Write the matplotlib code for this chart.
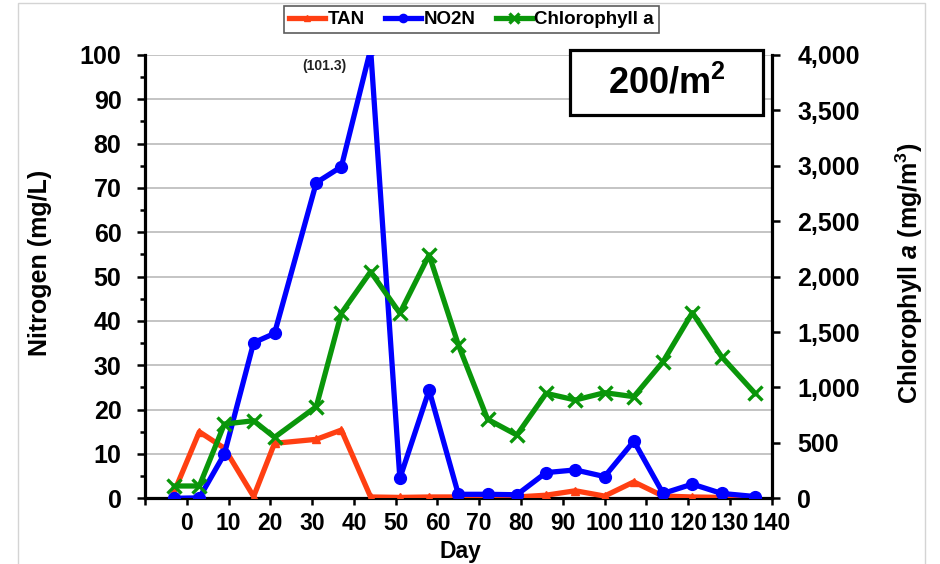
import matplotlib
matplotlib.use("Agg")
import matplotlib.pyplot as plt
from matplotlib.ticker import MultipleLocator, FuncFormatter, FixedLocator
from matplotlib.patches import Rectangle

plt.rcParams['font.family'] = ['Liberation Sans', 'DejaVu Sans']
plt.rcParams['font.weight'] = 'bold'
plt.rcParams['mathtext.fontset'] = 'custom'
plt.rcParams['mathtext.rm'] = 'Liberation Sans:bold'
plt.rcParams['mathtext.bf'] = 'Liberation Sans:bold'
plt.rcParams['mathtext.it'] = 'Liberation Sans:italic:bold'

# ---- data ----
days = [-3, 3, 9, 16, 21, 31, 37, 44, 51, 58, 65, 72, 79, 86, 93, 100, 107, 114, 121, 128, 136]
tan = [1.5, 15.0, 11.3, 0.4, 12.4, 13.3, 15.4, 0.3, 0.2, 0.3, 0.3, 0.3, 0.3, 0.7, 1.7, 0.5, 3.7, 0.5, 0.3, 0.2, 0.1]
no2n = [0.0, 0.1, 10.0, 35.1, 37.2, 71.2, 74.8, 101.3, 4.5, 24.4, 0.9, 0.9, 0.8, 5.8, 6.4, 4.9, 12.9, 1.1, 3.2, 1.1, 0.4]
chl = [111, 111, 670, 700, 550, 827, 1670, 2045, 1670, 2196, 1384, 713, 571, 947, 887, 953, 917, 1233, 1675, 1278, 947]
x_ticks = list(range(-10, 141, 10))
x_labels = [''] + [str(v) for v in range(0, 141, 10)]
left_ticks = list(range(0, 101, 10))
right_ticks = list(range(0, 4001, 500))
peak_label = '(101.3)'
box_label = r'200/m$^{2}$'

RED = '#FF3F12'
BLUE = '#0000FF'
GREEN = '#0A960A'

fig = plt.figure(figsize=(9.4, 5.64), dpi=100)
ax = fig.add_axes([0.15426, 0.11649, 0.6667, 0.786])
ax2 = ax.twinx()

lw = 3.8
l1, = ax.plot(days, tan, color=RED, lw=lw, marker='^', ms=6, mec=RED, mfc=RED, label='TAN', zorder=3)
l2, = ax.plot(days, no2n, color=BLUE, lw=lw, marker='o', ms=8.5, mec=BLUE, mfc=BLUE, label='NO2N', zorder=4)
l3, = ax2.plot(days, chl, color=GREEN, lw=lw, marker='x', ms=10, mew=2.4, mec=GREEN, label='Chlorophyll a', zorder=5)

ax.set_xlim(-10, 140)
ax.set_ylim(0, 100)
ax2.set_ylim(0, 4000)

ax.xaxis.set_major_locator(FixedLocator(x_ticks))
ax.set_xticklabels(x_labels)
ax.yaxis.set_major_locator(FixedLocator(left_ticks))
ax.yaxis.set_minor_locator(MultipleLocator(5))
ax2.yaxis.set_major_locator(FixedLocator(right_ticks))
ax2.yaxis.set_major_formatter(FuncFormatter(lambda v, p: f'{int(v):,}'))

ax.set_axisbelow(True)
ax.grid(axis='y', which='major', color='#c4c4c4', lw=1.4)
ax.grid(axis='x', visible=False)

for a in (ax, ax2):
    a.spines['top'].set_visible(False)
    for s in ('left', 'right', 'bottom'):
        a.spines[s].set_linewidth(2.3)
        a.spines[s].set_color('black')
ax.spines['right'].set_visible(False)
ax2.spines['left'].set_visible(False)
ax2.spines['bottom'].set_visible(False)

ax.tick_params(axis='y', which='major', direction='out', length=6, width=1.8, labelsize=18, pad=11)
ax.tick_params(axis='y', which='minor', direction='out', length=3.5, width=1.8)
ax.tick_params(axis='x', which='major', direction='out', length=5, width=1.8, labelsize=16.5, pad=5)
ax2.tick_params(axis='y', which='major', direction='out', length=5.5, width=1.8, labelsize=18, pad=13)

ax.set_ylabel('Nitrogen (mg/L)', fontsize=18, fontweight='bold', va='center')
ax.yaxis.set_label_coords(-0.1675, 0.53)
ax2.set_ylabel(r'Chlorophyll $\mathit{a}$ (mg/m$^{3}$)', fontsize=18, fontweight='bold', va='center')
ax2.yaxis.set_label_coords(1.219, 0.508)
ax.set_xlabel('Day', fontsize=16.5, fontweight='bold', va='center')
ax.xaxis.set_label_coords(0.503, -0.119)

ax.text(33, 97.6, peak_label, fontsize=10, fontweight='bold', ha='center', va='center', color='#222222')

ax.add_patch(Rectangle((0.678, 0.865), 0.308, 0.146, transform=ax.transAxes, fc='white',
                       ec='black', lw=2.3, zorder=9, clip_on=False))
ax.text(0.832, 0.935, box_label, transform=ax.transAxes, fontsize=26, fontweight='bold',
        ha='center', va='center', zorder=10)

leg = fig.legend(handles=[l1, l2, l3], loc='center', bbox_to_anchor=(0.5016, 0.965), ncol=3,
                 fontsize=13.5, frameon=True, fancybox=False, edgecolor='#333333',
                 handlelength=1.9, handletextpad=0.15, columnspacing=1.1, borderpad=0.25,
                 numpoints=1, markerscale=0.7)
leg.get_frame().set_linewidth(1.2)

fig.add_artist(Rectangle((18 / 940, -0.1), (925 - 18) / 940, 1.1 - 3 / 564,
                         transform=fig.transFigure, fill=False, ec='#d4d4d4', lw=1.0))

fig.savefig('out.png', dpi=100)
